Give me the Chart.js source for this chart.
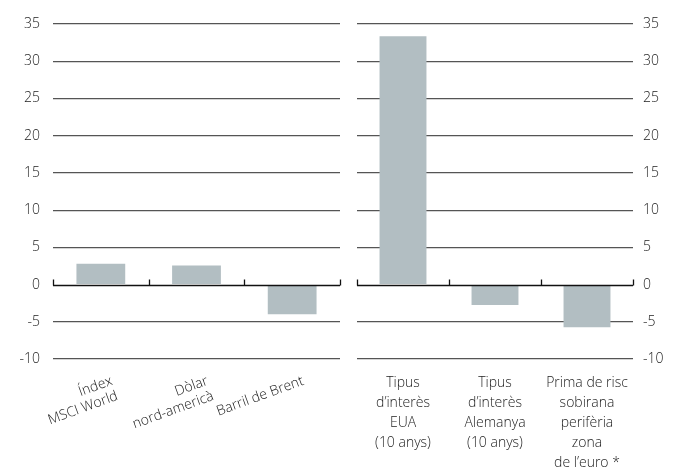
<!DOCTYPE html>
<html>
<head>
<meta charset="utf-8">
<script src="https://cdn.jsdelivr.net/npm/chart.js@4.4.1/dist/chart.umd.min.js"></script>
<style>
  html, body { margin: 0; padding: 0; background: #fff; }
  #wrap { position: relative; width: 683px; height: 472px; }
  .box { position: absolute; top: 0; height: 472px; }
</style>
</head>
<body>
<div id="wrap">
  <div class="box" style="left:0;width:348px"><canvas id="leftChart"></canvas></div>
  <div class="box" style="left:348px;width:335px"><canvas id="rightChart"></canvas></div>
</div>
<script>
// left panel
const leftLabels = [['Índex', 'MSCI World'], ['Dòlar', 'nord-americà'], ['Barril de Brent']];
const leftValues = [2.8, 2.55, -4.0];

// right panel
const rightLabels = [
    ['Tipus', 'd’interès', 'EUA', '(10 anys)'],
    ['Tipus', 'd’interès', 'Alemanya', '(10 anys)'],
    ['Prima de risc', 'sobirana', 'perifèria', 'zona', 'de l’euro *']
];
const rightValues = [33.35, -2.75, -5.75];

const yMin = -10, yMax = 35, yStep = 5;

const barColor = '#b2bec2';
const textColor = '#222';
const fontFamily = '"Open Sans", "Noto Sans", sans-serif';

// zero line with small upward ticks between categories
const zeroAxis = {
    id: 'zeroAxis',
    afterDatasetsDraw(chart) {
        const { ctx, chartArea, scales: { x, y } } = chart;
        const y0 = Math.round(y.getPixelForValue(0)) + 0.5;
        ctx.save();
        ctx.strokeStyle = '#111';
        ctx.lineWidth = 1.3;
        ctx.beginPath();
        ctx.moveTo(chartArea.left, y0);
        ctx.lineTo(chartArea.right, y0);
        for (let i = 0; i <= chart.data.labels.length; i++) {
            const px = Math.round(x.getPixelForValue(i - 0.5)) + 0.5;
            ctx.moveTo(px, y0);
            ctx.lineTo(px, y0 - 6);
        }
        ctx.stroke();
        ctx.restore();
    }
};

function makeChart(id, labels, values, side) {
    const isLeft = side === 'left';
    return new Chart(document.getElementById(id).getContext('2d'), {
        type: 'bar',
        data: {
            labels: labels,
            datasets: [{
                data: values,
                backgroundColor: barColor,
                barPercentage: 0.51,
                categoryPercentage: 1.0
            }]
        },
        options: {
            responsive: true,
            maintainAspectRatio: false,
            animation: false,
            layout: {
                padding: isLeft ? { top: 24, right: 8, left: 0, bottom: 0 }
                                : { top: 24, right: 0, left: 9, bottom: 0 }
            },
            plugins: { legend: { display: false }, tooltip: { enabled: false } },
            scales: {
                x: {
                    grid: { display: false },
                    border: { display: false },
                    afterFit(scale) { scale.height = 113; },
                    ticks: {
                        autoSkip: false,
                        color: textColor,
                        minRotation: isLeft ? 20 : 0,
                        maxRotation: isLeft ? 20 : 0,
                        labelOffset: isLeft ? 11 : 0,
                        padding: 6,
                        font: { family: fontFamily, size: 14, weight: 300, lineHeight: isLeft ? 1.15 : 1.43 }
                    }
                },
                y: {
                    position: side,
                    min: yMin,
                    max: yMax,
                    border: { display: false },
                    afterFit(scale) { scale.width = isLeft ? 53 : 50; },
                    grid: {
                        drawTicks: false,
                        color: (c) => c.tick && c.tick.value === 0 ? 'rgba(0,0,0,0)' : '#555',
                        lineWidth: 1.2
                    },
                    ticks: {
                        stepSize: yStep,
                        color: textColor,
                        padding: isLeft ? 13 : 10,
                        font: { family: fontFamily, size: 14, weight: 300 }
                    }
                }
            }
        },
        plugins: [zeroAxis]
    });
}

window.onload = () => {
    makeChart('leftChart', leftLabels, leftValues, 'left');
    makeChart('rightChart', rightLabels, rightValues, 'right');
};
</script>
</body>
</html>
